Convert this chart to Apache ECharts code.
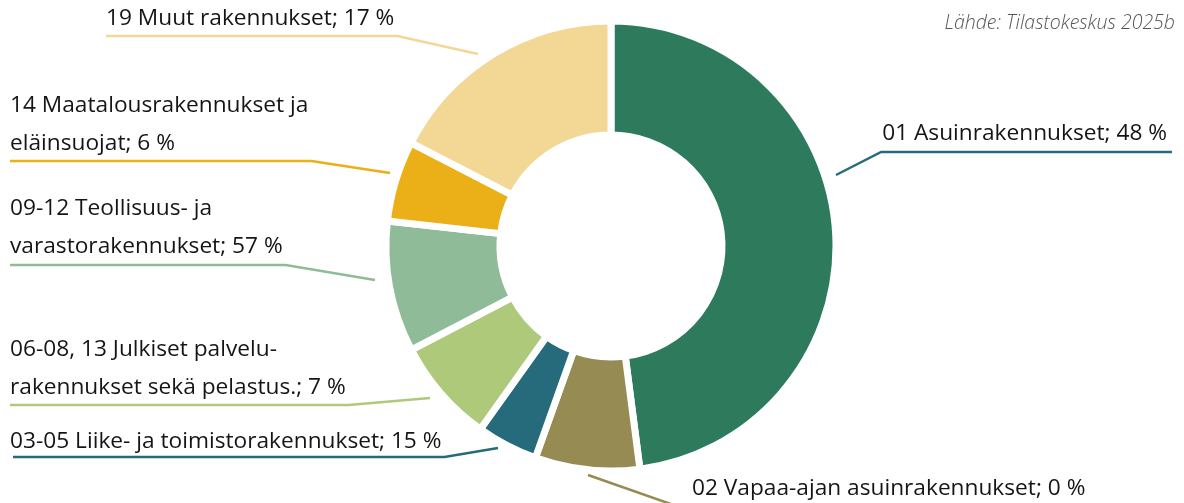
<!DOCTYPE html>
<html>
<head>
<meta charset="utf-8">
<script src="https://cdn.jsdelivr.net/npm/echarts@6/dist/echarts.min.js"></script>
<style>
html,body{margin:0;padding:0;background:#ffffff;}
#chart{width:1184px;height:503px;}
</style>
</head>
<body>
<div id="chart"></div>
<script>
// ---- data ----
const categories = [
  '01 Asuinrakennukset',
  '02 Vapaa-ajan asuinrakennukset',
  '03-05 Liike- ja toimistorakennukset',
  '06-08, 13 Julkiset palvelu-\nrakennukset sekä pelastus.',
  '09-12 Teollisuus- ja\nvarastorakennukset',
  '14 Maatalousrakennukset ja\neläinsuojat',
  '19 Muut rakennukset'
];
const shares = [47.9, 7.5, 4.4, 7.5, 9.4, 5.8, 17.4];
const labelPercents = [48, 0, 15, 7, 57, 6, 17];
const sourceText = 'Lähde: Tilastokeskus 2025b';

// ---- styles ----
const sliceColors = ['#2d7a5d', '#958b53', '#266b7b', '#afc97b', '#8fbb98', '#ebaf17', '#f3d794'];
const lineColors  = ['#266b7b', '#958b53', '#266b7b', '#afc97b', '#8fbb98', '#ebaf17', '#f3d794'];
const FONT = '"Open Sans", "DejaVu Sans", sans-serif';
const FONT_SIZE = 22.7;

// ---- label placement (Excel-style manually placed data labels) ----
const labelSpots = [
  {align: 'right', x: 1167, base: 140, lineY: 152, start: [836, 175], lineEnd: 1172},
  {align: 'left',  x: 692,  base: 495, lineY: 509, start: [588, 475], elbowX: 685},
  {align: 'left',  x: 10,   base: 448, lineY: 457, start: [498, 448], lineStart: 13},
  {align: 'left',  x: 10,   base: 394, lineY: 405, start: [430, 398], lineStart: 10},
  {align: 'left',  x: 10,   base: 253, lineY: 265, start: [375, 280], lineStart: 10},
  {align: 'left',  x: 10,   base: 150, lineY: 161, start: [390, 173], lineStart: 10},
  {align: 'left',  x: 106,  base: 25,  lineY: 36,  start: [478, 54],  lineStart: 106}
];

const measureCanvas = document.createElement('canvas').getContext('2d');
function textWidth(str) {
  measureCanvas.font = FONT_SIZE + 'px ' + FONT;
  return Math.max.apply(null, str.split('\n').map(s => measureCanvas.measureText(s).width));
}
function labelText(i) {
  return categories[i] + '; ' + labelPercents[i] + ' %';
}

const chart = echarts.init(document.getElementById('chart'), null, {renderer: 'canvas'});

const option = {
  animation: false,
  backgroundColor: '#ffffff',
  graphic: [{
    type: 'text',
    right: 9,
    top: 13,
    style: {
      text: sourceText,
      font: 'italic 300 19.5px ' + FONT,
      fill: '#555555'
    }
  }],
  series: [{
    type: 'pie',
    center: [611, 246],
    radius: [111, 225],
    startAngle: 90,
    clockwise: true,
    avoidLabelOverlap: false,
    itemStyle: {borderColor: '#ffffff', borderWidth: 7},
    emphasis: {disabled: true},
    label: {
      show: true,
      position: 'outside',
      alignTo: 'edge',
      edgeDistance: 10,
      overflow: 'none',
      fontFamily: FONT,
      fontSize: FONT_SIZE,
      lineHeight: 38,
      color: '#151515',
      formatter: p => labelText(p.dataIndex)
    },
    labelLine: {show: true, length: 10, length2: 10, lineStyle: {width: 2.5}},
    labelLayout: function (params) {
      const i = params.dataIndex;
      const s = labelSpots[i];
      const w = textWidth(labelText(i));
      const y = s.base + 13;
      let pts;
      if (s.align === 'right') {
        const left = s.x - w - 1;
        pts = [s.start, [left, s.lineY], [s.lineEnd, s.lineY]];
      } else if (s.elbowX != null) {
        pts = [s.start, [s.elbowX, s.lineY], [s.x + w, s.lineY]];
      } else {
        pts = [s.start, [s.x + w + 3, s.lineY], [s.lineStart, s.lineY]];
      }
      return {
        x: s.x,
        y: y,
        align: s.align,
        verticalAlign: 'bottom',
        labelLinePoints: pts
      };
    },
    data: categories.map((name, i) => ({
      name: name,
      value: shares[i],
      itemStyle: {color: sliceColors[i]},
      labelLine: {lineStyle: {color: lineColors[i], width: 2.5}}
    }))
  }]
};
chart.setOption(option);
</script>
</body>
</html>
